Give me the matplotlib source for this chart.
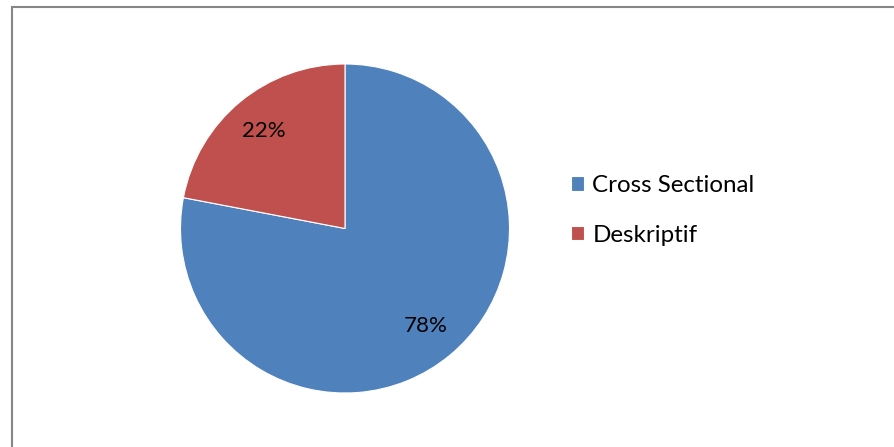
import matplotlib.pyplot as plt
from matplotlib.patches import Rectangle

categories = ['Cross Sectional', 'Deskriptif']
values = [78, 22]
colors = ['#4F81BD', '#C0504D']

plt.rcParams['font.family'] = ['Lato', 'DejaVu Sans']

fig = plt.figure(figsize=(8.94, 4.47), dpi=100)
ax = fig.add_axes([0, 0, 1, 1])
ax.set_xlim(0, 894)
ax.set_ylim(0, 447)
ax.set_aspect('equal')
ax.axis('off')

wedges, texts, autotexts = ax.pie(
    values, colors=colors, startangle=90, counterclock=False,
    center=(345, 447 - 228.5), radius=164.5,
    autopct='%1.0f%%', pctdistance=0.77,
    wedgeprops=dict(edgecolor='white', linewidth=0.8),
    textprops=dict(fontsize=16, color='black'))
ax.set_xlim(0, 894)
ax.set_ylim(0, 447)

# chart frame
fig.patches.append(Rectangle((12 / 894, -0.1), 1.2, (447 - 7) / 447 + 0.1,
                             transform=fig.transFigure, fill=False,
                             edgecolor='#868686', linewidth=1.5))

fig.legend(wedges, categories, loc='upper left',
           bbox_to_anchor=(571 / 894, 1 - 175 / 447),
           frameon=False, fontsize=17.4, handlelength=0.55, handleheight=0.55,
           handletextpad=0.33, labelspacing=1.18, borderpad=0, borderaxespad=0)

fig.savefig('out.png', dpi=100)
